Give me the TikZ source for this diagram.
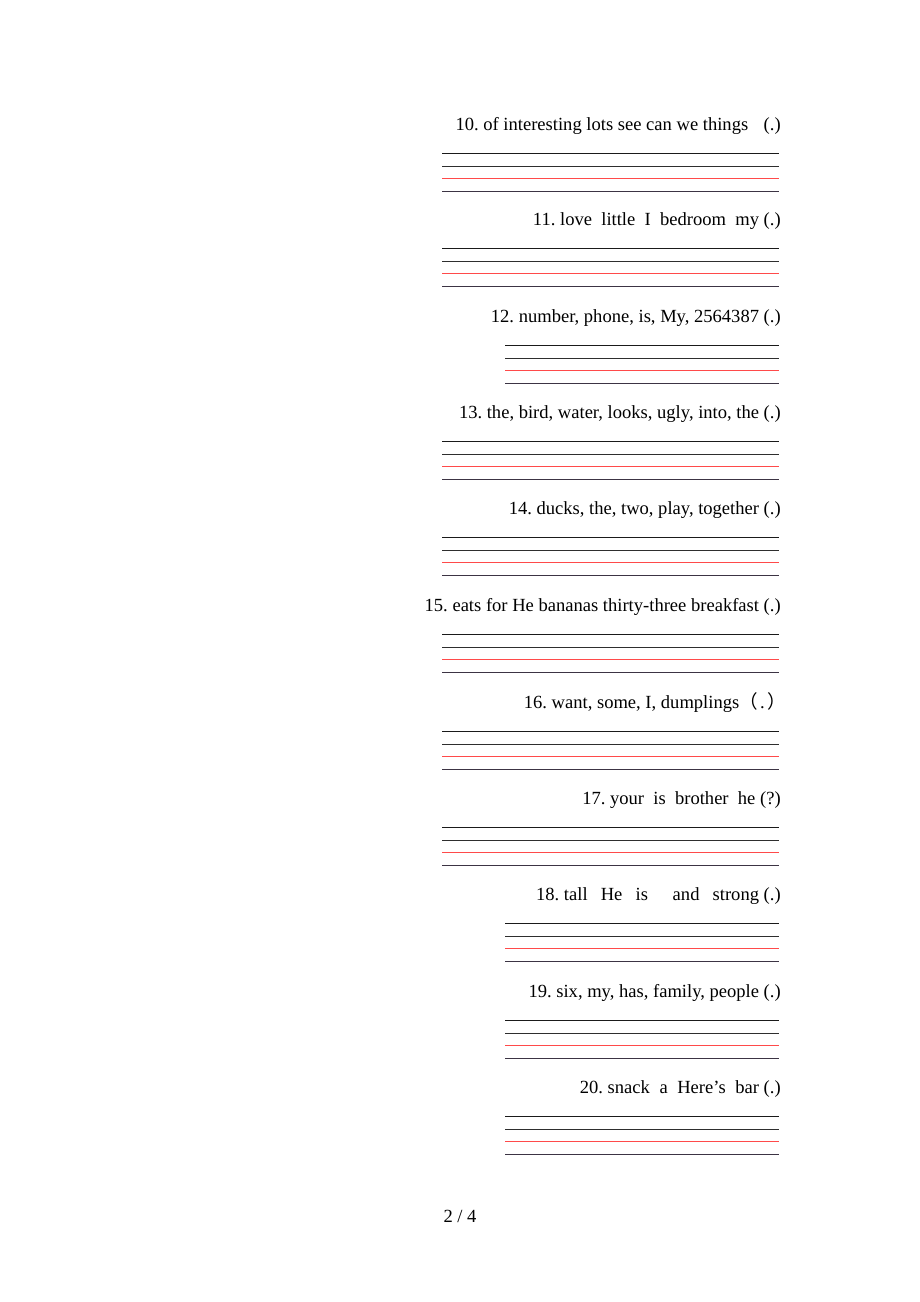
\documentclass[tikz,border=0pt]{standalone}
\usepackage{fontspec}
\setmainfont{Liberation Serif}
\newfontfamily\cjk{Noto Sans CJK SC}
\frenchspacing
\definecolor{lnblack}{HTML}{1A1A1A}
\definecolor{lngrey}{HTML}{2E2E2E}
\definecolor{lnred}{HTML}{FF4A4A}
\definecolor{lnpurple}{HTML}{3C3444}
\tikzset{
  qtext/.style={anchor=base east, inner sep=0pt, font=\fontsize{12}{14}\selectfont},
  rl/.style={line width=1.1pt},
}
\newcommand{\gp}[1]{\hspace{#1pt}}
% #1 first line row (px), #2 left x, #3 text, #4 id, #5 text right x
\newcommand{\wblock}[5]{%
  \node[qtext] (t#4) at (#5,#1-22.5) {#3};
  \coordinate (a#4) at (#2,#1+0.5);
  \coordinate (b#4) at (779,#1+0.5);
  \draw[rl,lnblack] (a#4) -- (b#4);
  \draw[rl,lngrey] ([yshift=-13*0.6467pt]a#4) -- ([yshift=-13*0.6467pt]b#4);
  \draw[rl,lnred] ([yshift=-25*0.6467pt]a#4) -- ([yshift=-25*0.6467pt]b#4);
  \draw[rl,lnpurple] ([yshift=-38*0.6467pt]a#4) -- ([yshift=-38*0.6467pt]b#4);
}
\begin{document}
\begin{tikzpicture}[x=0.6467pt,y=-0.6467pt]
\useasboundingbox (0,0) rectangle (920,1302);
\wblock{153}{442}{10. of interesting lots see can we things\gp{10}(.)}{10}{781}
\wblock{248}{442}{11. love\gp{6}little\gp{6}I\gp{6}bedroom\gp{6}my (.)}{11}{781}
\wblock{345}{505}{12. number, phone, is, My, 2564387 (.)}{12}{781}
\wblock{441}{442}{13. the, bird, water, looks, ugly, into, the (.)}{13}{781}
\wblock{537}{442}{14. ducks, the, two, play, together (.)}{14}{781}
\wblock{634}{442}{15. eats for He bananas thirty-three breakfast (.)}{15}{781}
\wblock{731}{442}{16. want, some, I, dumplings{\cjk （}\gp{1.5}.\gp{1.5}{\cjk ）}}{16}{786}
\wblock{827}{442}{17. your\gp{6}is\gp{6}brother\gp{6}he (?)}{17}{781}
\wblock{923}{505}{18. tall\gp{8.5}He\gp{8.5}is\gp{16}and\gp{8.5}strong (.)}{18}{781}
\wblock{1020}{505}{19. six, my, has, family, people (.)}{19}{781}
\wblock{1116}{505}{20. snack\gp{6.2}a\gp{6.2}Here’s\gp{6.2}bar (.)}{20}{781}
\node[anchor=base, inner sep=0pt, font=\fontsize{12}{14}\selectfont] (pg) at (460,1222) {2 / 4};
\end{tikzpicture}
\end{document}
